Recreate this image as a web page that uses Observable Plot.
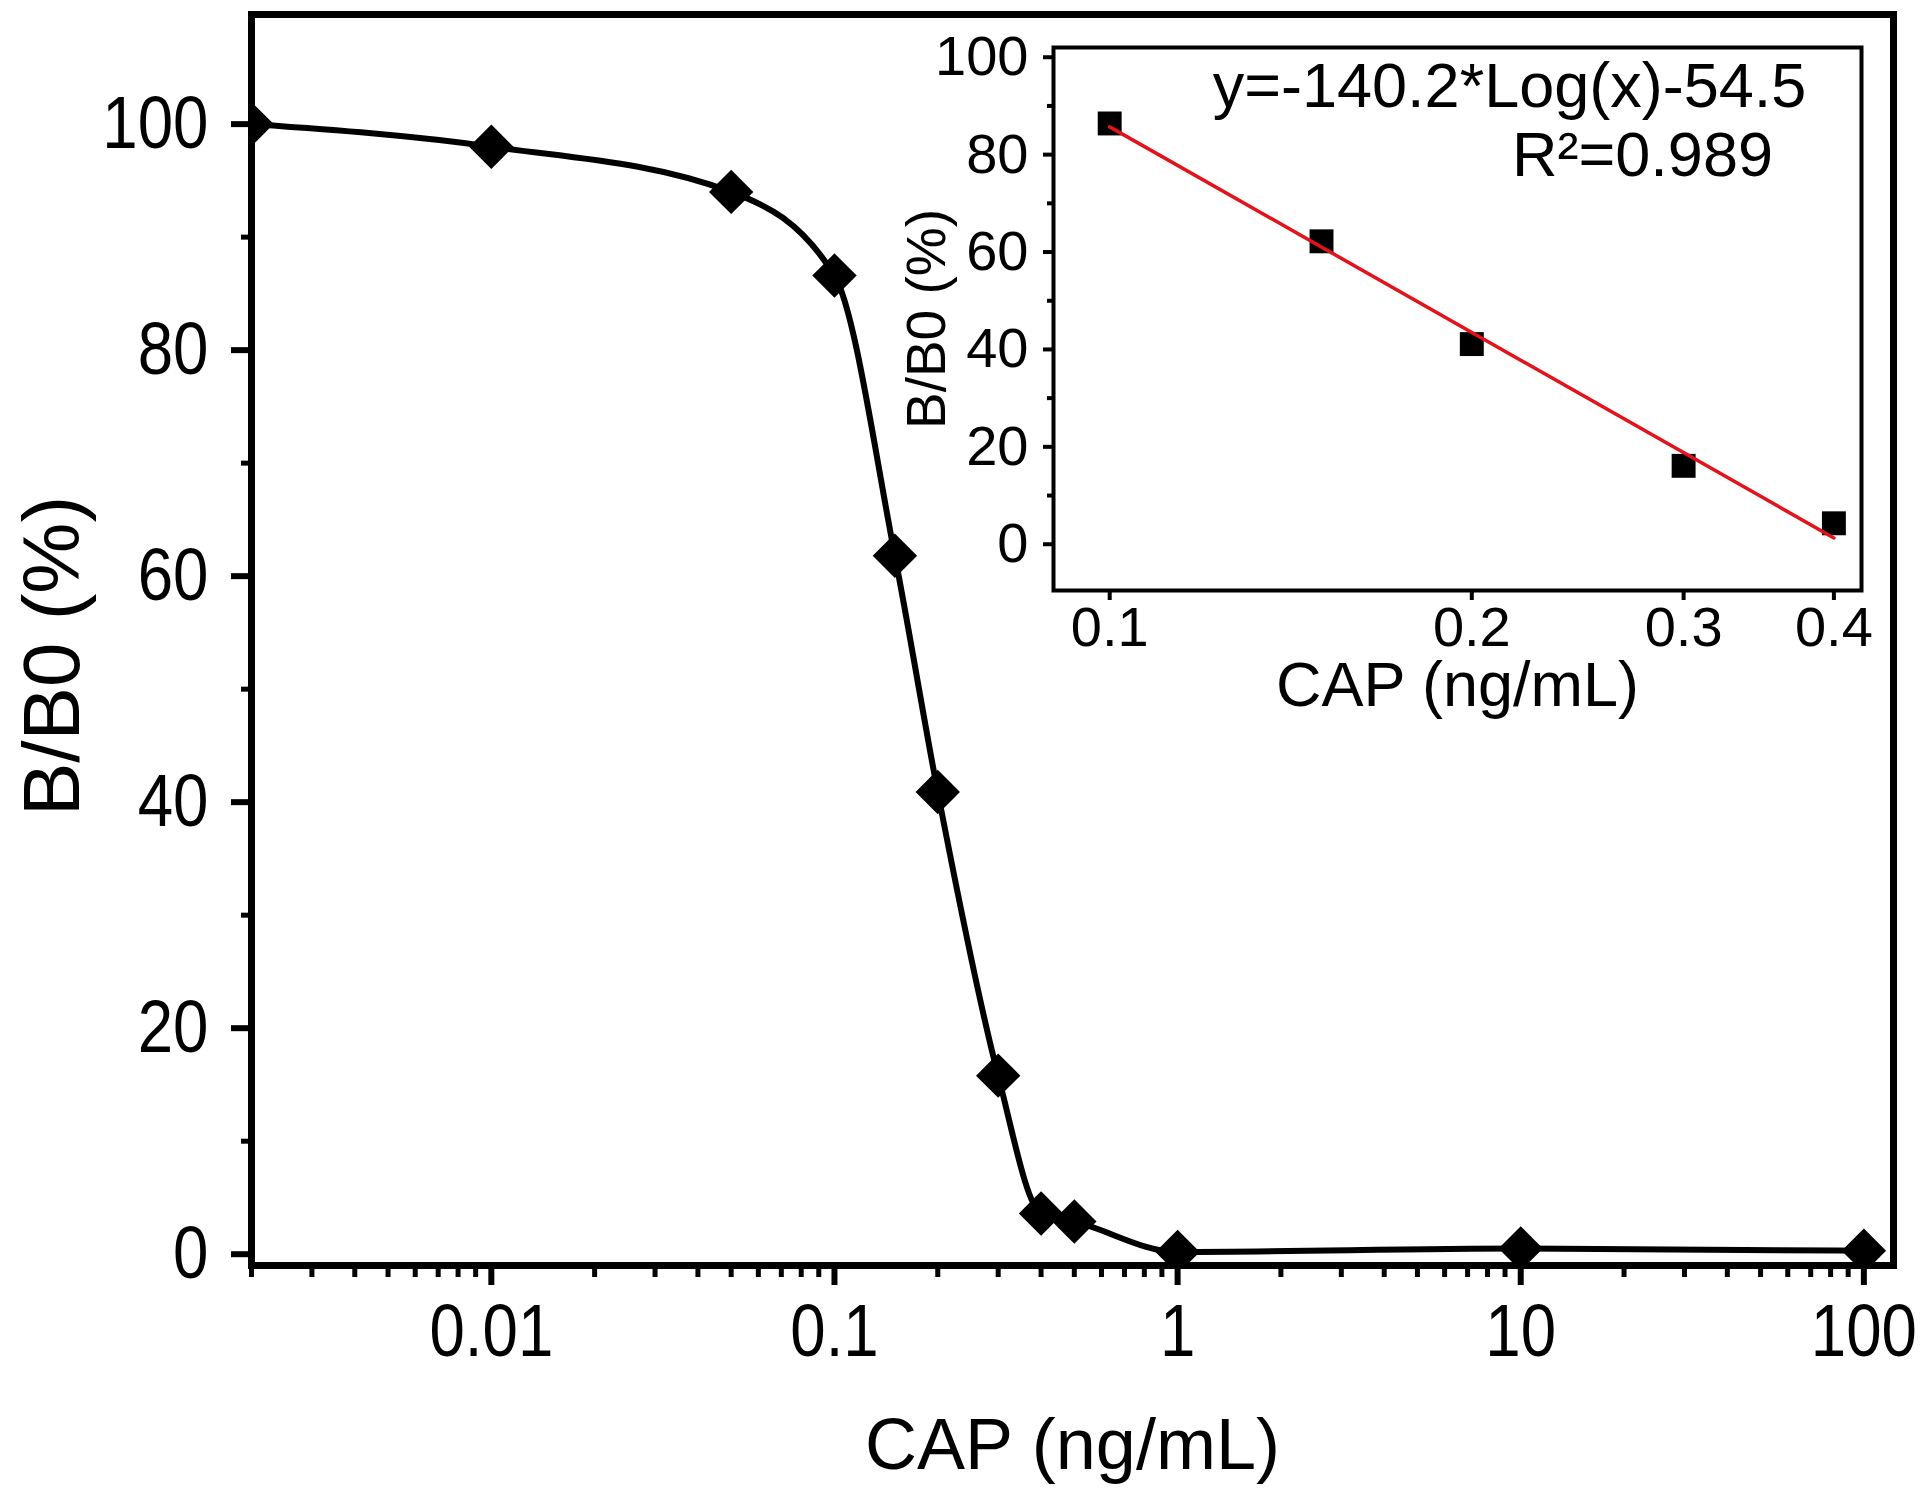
<!DOCTYPE html>
<html><head><meta charset="utf-8">
<script src="https://cdn.jsdelivr.net/npm/d3@7"></script>
<script src="https://cdn.jsdelivr.net/npm/@observablehq/plot@0.6"></script>
<style>
html,body{margin:0;padding:0;background:#fff;}
#chart{position:relative;width:1920px;height:1488px;background:#fff;}
#chart svg{position:absolute;overflow:visible;}
</style></head><body><div id="chart"></div>
<script>
// ---- Main calibration curve data ----
const concentrations = [0.002, 0.01, 0.05, 0.1, 0.15, 0.2, 0.3, 0.4, 0.5, 1, 10, 100];
const ratios = [100, 98.0, 94.0, 86.6, 61.8, 40.9, 15.8, 3.6, 2.9, 0.2, 0.5, 0.3];
const xTicks = [0.01, 0.1, 1, 10, 100];
const xTickLabels = ["0.01", "0.1", "1", "10", "100"];
const xDecades = [0.001, 0.01, 0.1, 1, 10];
const yTicks = [0, 20, 40, 60, 80, 100];
const yMinorTicks = [10, 30, 50, 70, 90];
const xTitle = "CAP (ng/mL)";
const yTitle = "B/B0 (%)";

// ---- Inset (linear range) data ----
const insetConc = [0.1, 0.15, 0.2, 0.3, 0.4];
const insetRatios = [86.4, 62.2, 41.1, 16.1, 4.3];
const fitConc = [0.1, 0.4];
const fitRatios = [85.7, 1.3];
const insetXTicks = [0.1, 0.2, 0.3, 0.4];
const insetXTickLabels = ["0.1", "0.2", "0.3", "0.4"];
const insetYTicks = [0, 20, 40, 60, 80, 100];
const insetYMinorTicks = [10, 30, 50, 70, 90];
const equationText = "y=-140.2*Log(x)-54.5";
const r2Text = "R²=0.989";

// ---- build tables ----
const mainData = concentrations.map((c, i) => ({c, r: ratios[i]}));
const insetData = insetConc.map((c, i) => ({c, r: insetRatios[i]}));
const fitData = fitConc.map((c, i) => ({c, r: fitRatios[i]}));
const xDomain = [0.002, 122];
const xMinorTicks = [];
for (const d of xDecades) for (let k = 2; k <= 9; k++) {
  const v = +(d * k).toPrecision(3);
  if (v >= xDomain[0] && v <= xDomain[1]) xMinorTicks.push(v);
}

const sans = "'Liberation Sans', Arial, Helvetica, sans-serif";

const main = Plot.plot({
  width: 1920, height: 1488,
  marginLeft: 251, marginRight: 27, marginTop: 14, marginBottom: 223,
  style: {background: "#fff", color: "#000", fontFamily: sans},
  x: {type: "log", domain: xDomain},
  y: {domain: [-1, 109.7]},
  marks: [
    Plot.axisX({ticks: xMinorTicks, tickSize: 12, strokeWidth: 5, tickFormat: () => "", label: null}),
    Plot.axisX({ticks: xTicks, tickSize: 20, tickPadding: 18, strokeWidth: 6,
      tickFormat: d => xTickLabels[xTicks.indexOf(d)], fontSize: 74, label: null}),
    Plot.axisY({ticks: yMinorTicks, tickSize: 10, strokeWidth: 5, tickFormat: () => "", label: null}),
    Plot.axisY({ticks: yTicks, tickSize: 20, tickPadding: 23, strokeWidth: 6,
      fontSize: 74, label: null}),
    Plot.line(mainData, {x: "c", y: "r", curve: "monotone-x", stroke: "#000", strokeWidth: 6, clip: "frame"}),
    Plot.dot(mainData, {x: "c", y: "r", symbol: "diamond2", r: 20, fill: "#000", stroke: "none", clip: "frame"}),
    Plot.frame({stroke: "#000", strokeWidth: 7}),
    Plot.text([xTitle], {frameAnchor: "bottom", textAnchor: "middle", lineAnchor: "middle", dy: 180, fontSize: 72, fill: "#000"}),
    Plot.text([yTitle], {frameAnchor: "left", textAnchor: "middle", lineAnchor: "middle", rotate: -90, dx: -198, dy: 16, fontSize: 80, fill: "#000"})
  ]
});
main.style.left = "0px"; main.style.top = "0px";
// the original tick numerals are a condensed face: narrow them horizontally around their anchor
main.querySelectorAll('g[aria-label="x-axis tick label"] text, g[aria-label="y-axis tick label"] text').forEach(t => {
  const tr = t.getAttribute("transform");
  if (tr) t.setAttribute("transform", tr + " scale(0.86,1)");
});

const inset = Plot.plot({
  width: 1080, height: 760,
  marginLeft: 213, marginRight: 59, marginTop: 47, marginBottom: 170,
  style: {background: "transparent", color: "#000", fontFamily: sans},
  x: {type: "log", domain: [0.0898, 0.4217]},
  y: {domain: [-9.5, 102]},
  marks: [
    Plot.axisY({ticks: insetYMinorTicks, tickSize: 6, strokeWidth: 4, tickFormat: () => "", label: null}),
    Plot.axisY({ticks: insetYTicks, tickSize: 10, tickPadding: 15, strokeWidth: 4, fontSize: 56, label: null}),
    Plot.axisX({ticks: insetXTicks, tickSize: 10, tickPadding: 6, strokeWidth: 4, fontSize: 56,
      tickFormat: d => insetXTickLabels[insetXTicks.indexOf(d)], label: null}),
    Plot.dot(insetData, {x: "c", y: "r", symbol: "square", r: 13.5, fill: "#000", stroke: "none"}),
    Plot.line(fitData, {x: "c", y: "r", stroke: "#e3121b", strokeWidth: 3.5}),
    Plot.frame({stroke: "#000", strokeWidth: 4}),
    Plot.text([equationText], {frameAnchor: "top-left", textAnchor: "middle", lineAnchor: "middle", dx: 456, dy: 39, fontSize: 63, fill: "#000"}),
    Plot.text([r2Text], {frameAnchor: "top-left", textAnchor: "middle", lineAnchor: "middle", dx: 589, dy: 108, fontSize: 63, fill: "#000"}),
    Plot.text([xTitle], {frameAnchor: "bottom", textAnchor: "middle", lineAnchor: "middle", dy: 95, fontSize: 63, fill: "#000"}),
    Plot.text([yTitle], {frameAnchor: "left", textAnchor: "middle", lineAnchor: "middle", rotate: -90, dx: -126, dy: 0, fontSize: 55, fill: "#000"})
  ]
});
inset.style.left = "840px"; inset.style.top = "0px";

const chart = document.getElementById("chart");
chart.appendChild(main);
chart.appendChild(inset);
</script>
</body></html>
